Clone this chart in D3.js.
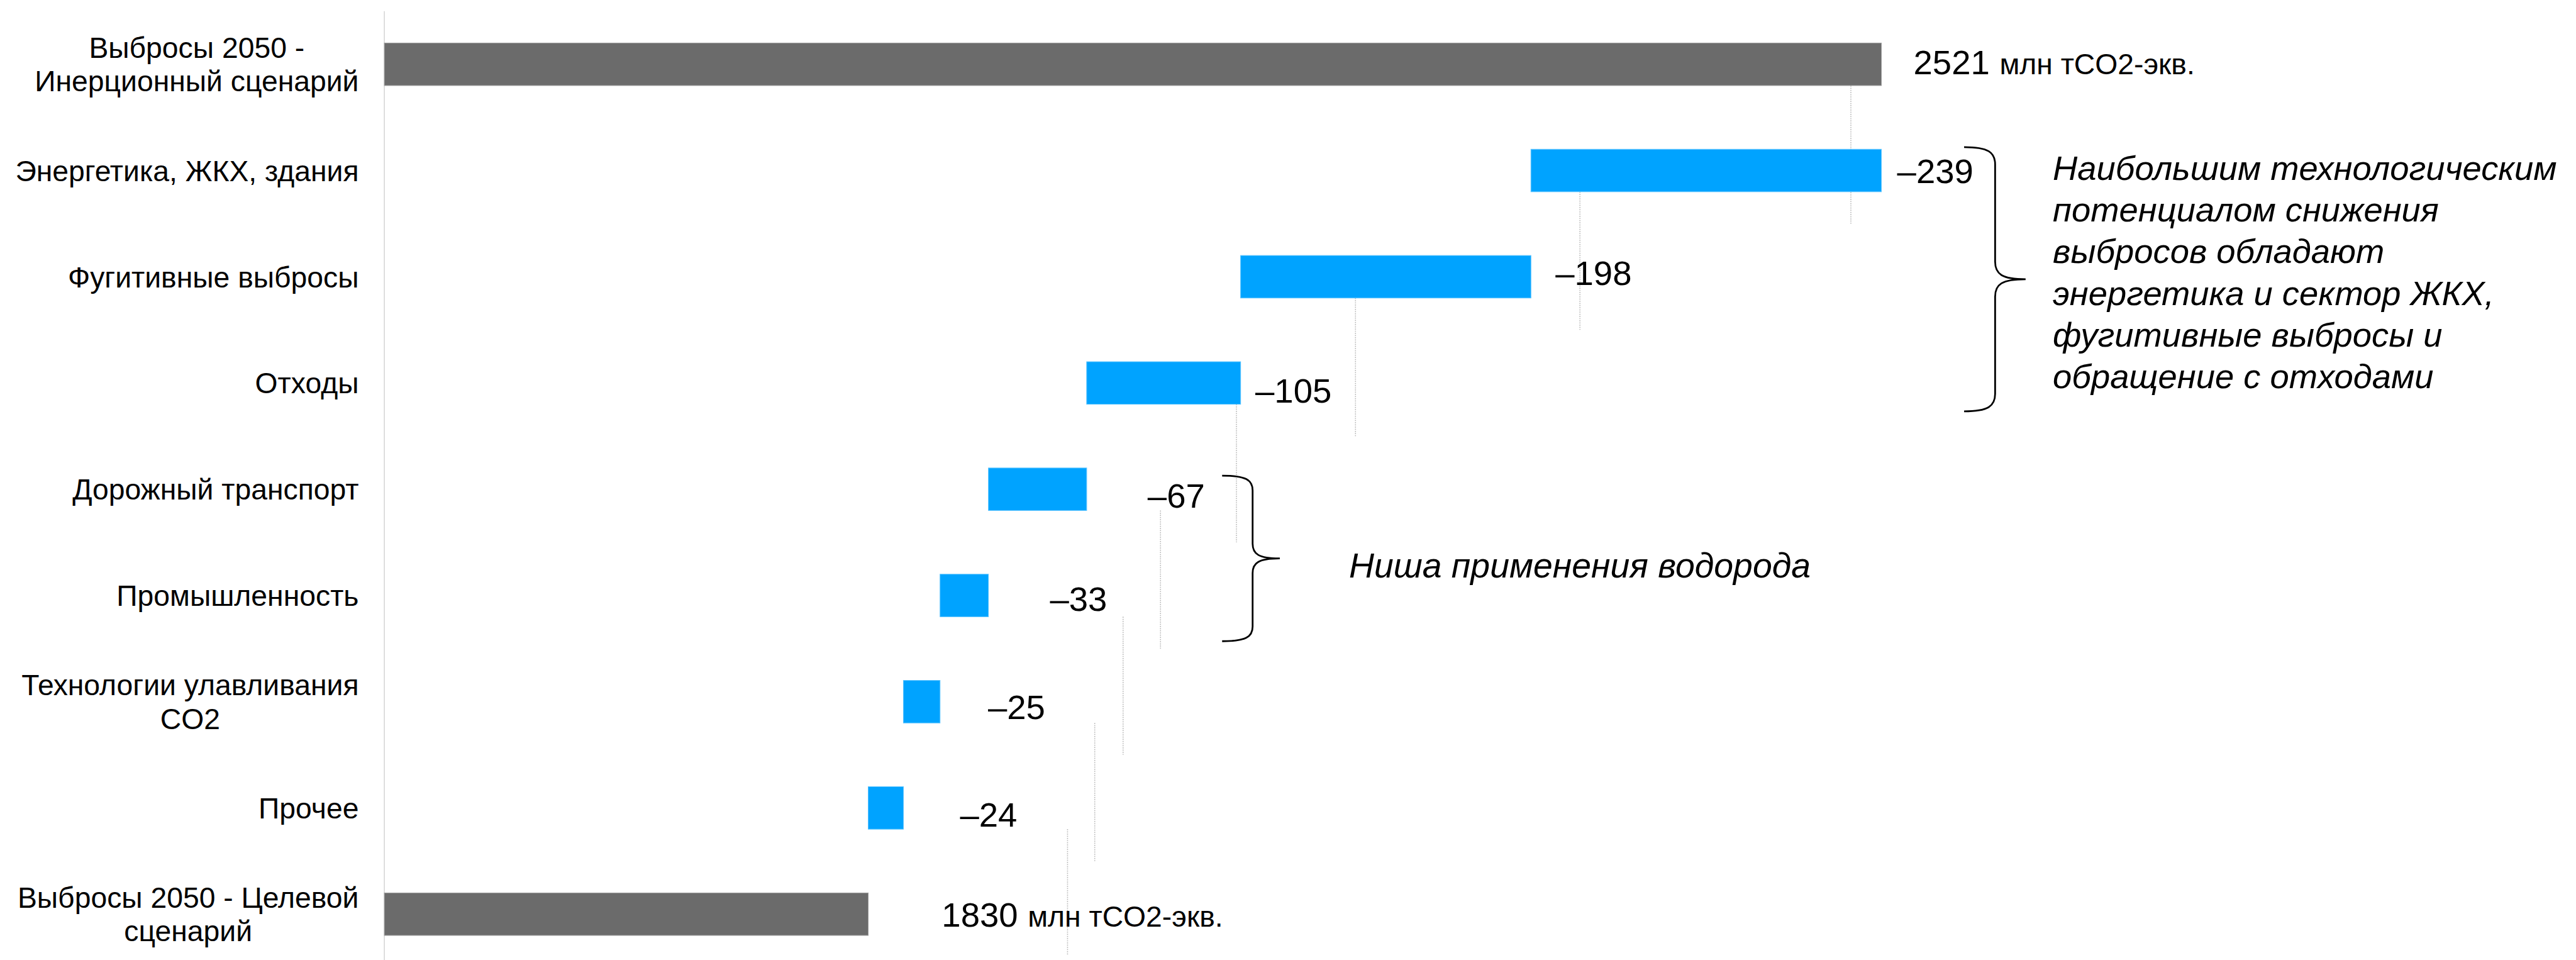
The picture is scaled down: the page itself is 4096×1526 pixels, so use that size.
<!DOCTYPE html>
<html>
<head>
<meta charset="utf-8">
<script src="https://cdn.jsdelivr.net/npm/d3@7"></script>
<style>
  html, body { margin: 0; padding: 0; background: #fff; overflow: hidden; }
  svg { display: block; }
</style>
</head>
<body>
<svg id="chart"></svg>
<script>
// ---- data ----------------------------------------------------------------
const categories = [
  "Выбросы 2050 -\nИнерционный сценарий",
  "Энергетика, ЖКХ, здания",
  "Фугитивные выбросы",
  "Отходы",
  "Дорожный транспорт",
  "Промышленность",
  "Технологии улавливания\nCO2",
  "Прочее",
  "Выбросы 2050 - Целевой\nсценарий"
];
const startTotal = 2521;                          // млн тCO2-экв.
const reductions = [239, 198, 105, 67, 33, 25, 24];
const endTotal = 1830;
const axisMin = 1500;
const unitLabel = "млн тCO2-экв.";
const noteMain = [
  "Наибольшим технологическим",
  "потенциалом снижения",
  "выбросов обладают",
  "энергетика и сектор ЖКХ,",
  "фугитивные выбросы и",
  "обращение с отходами"
];
const noteHydrogen = "Ниша применения водорода";

// ---- layout (drawn in a 4732 x 1763 coordinate space, scaled to the window) ----
const W = 4732, H = 1763;
const font = "'Liberation Sans', Arial, Helvetica, sans-serif";
const colors = { total: "#6b6b6b", totalEdge: "#9a9a9a", step: "#00a3ff", stepEdge: "#59c3ff",
                 axis: "#d9d9d9", connector: "#b8b8b8", text: "#000" };
// horizontal gap between a bar's right end and its value label, and vertical nudge
const stepLabelGap = [29, 45, 27, 112, 113, 88, 104];
const stepLabelDy  = [0, -8, 13, 11, 6, 9, 12];

const svg = d3.select("#chart")
  .attr("width", 4096).attr("height", 1526)
  .attr("viewBox", `0 0 ${W} ${H}`)
  .style("font-family", font);

const x = d3.scaleLinear().domain([axisMin, startTotal]).range([706, 3456]);
const y = d3.scaleBand().domain(categories).range([20.5, 1776.4])
  .paddingInner(0.6).paddingOuter(0.3);
const yc = c => y(c) + y.bandwidth() / 2;

// running totals before each reduction step
const before = [];
reductions.reduce((acc, r) => { before.push(acc); return acc - r; }, startTotal);
const after = before.map((b, i) => b - reductions[i]);

// connector guides sit on their own compressed scale
const connX = d3.scaleLinear().domain([endTotal, startTotal]).range([1961, 3400]);

// ---- category axis line ----
svg.append("line")
  .attr("x1", x(axisMin)).attr("x2", x(axisMin))
  .attr("y1", y.range()[0]).attr("y2", H)
  .attr("stroke", colors.axis).attr("stroke-width", 2);

// ---- connectors ----
const connTotals = [startTotal, ...after];
svg.append("g").selectAll("line")
  .data(connTotals)
  .join("line")
  .attr("x1", d => connX(d)).attr("x2", d => connX(d))
  .attr("y1", (d, i) => yc(categories[i]) + 0.2 * y.step())
  .attr("y2", (d, i) => Math.min(H - 10, yc(categories[i]) + 1.5 * y.step()))
  .attr("stroke", colors.connector).attr("stroke-width", 1.8)
  .attr("stroke-dasharray", "2,2");

// ---- bars ----
const bars = [
  { cat: categories[0], x0: axisMin, x1: startTotal, kind: "total" },
  ...reductions.map((r, i) => ({ cat: categories[i + 1], x0: after[i], x1: before[i], kind: "step" })),
  { cat: categories[8], x0: axisMin, x1: endTotal, kind: "total" }
];
svg.append("g").selectAll("rect")
  .data(bars)
  .join("rect")
  .attr("x", d => x(d.x0))
  .attr("y", d => y(d.cat))
  .attr("width", d => x(d.x1) - x(d.x0))
  .attr("height", y.bandwidth())
  .attr("fill", d => colors[d.kind])
  .attr("stroke", d => d.kind === "total" ? colors.totalEdge : colors.stepEdge)
  .attr("stroke-width", 1.2);

// ---- category labels (multi-line labels centred on their widest line) ----
const labelRight = 659, labelSize = 53.5, labelLine = 61.5;
categories.forEach(c => {
  const lines = c.split("\n");
  const t = svg.append("text")
    .attr("font-size", labelSize).attr("fill", colors.text);
  const first = yc(c) + 0.36 * labelSize - (lines.length - 1) * labelLine / 2;
  lines.forEach((ln, k) => {
    t.append("tspan").attr("y", first + k * labelLine).text(ln);
  });
  const widths = t.selectAll("tspan").nodes().map(n => n.getComputedTextLength());
  const maxW = d3.max(widths);
  if (lines.length === 1) {
    t.attr("text-anchor", "end").selectAll("tspan").attr("x", labelRight);
  } else {
    t.attr("text-anchor", "middle").selectAll("tspan").attr("x", labelRight - maxW / 2);
  }
});

// ---- value labels ----
const valueSize = 63;
const fmtStep = v => "\u2013" + v;
svg.append("g").selectAll("text")
  .data(reductions)
  .join("text")
  .attr("x", (d, i) => x(before[i]) + stepLabelGap[i])
  .attr("y", (d, i) => yc(categories[i + 1]) + 0.358 * valueSize + stepLabelDy[i])
  .attr("font-size", valueSize).attr("fill", colors.text)
  .text(fmtStep);

function totalLabel(value, cat, gap, dy) {
  const t = svg.append("text")
    .attr("x", x(value) + gap)
    .attr("y", yc(cat) + 0.358 * valueSize + dy)
    .attr("fill", colors.text);
  t.append("tspan").attr("font-size", valueSize).text(value);
  t.append("tspan").attr("font-size", labelSize).attr("dx", 18).text(unitLabel);
}
totalLabel(startTotal, categories[0], 59, -4);
totalLabel(endTotal, categories[8], 135, 0);

// ---- curly braces with notes ----
function bracePath(xTip, y0, y1, xStem, xMid, r) {
  const ym = (y0 + y1) / 2;
  const cx = xTip + (xStem - xTip) * 0.78;
  const mx = xStem + (xMid - xStem) * 0.22;
  return `M${xTip},${y0} C${cx},${y0} ${xStem},${y0 + r * 0.3} ${xStem},${y0 + r}` +
         ` L${xStem},${ym - r} C${xStem},${ym - r * 0.3} ${mx},${ym} ${xMid},${ym}` +
         ` C${mx},${ym} ${xStem},${ym + r * 0.3} ${xStem},${ym + r}` +
         ` L${xStem},${y1 - r} C${xStem},${y1 - r * 0.3} ${cx},${y1} ${xTip},${y1}`;
}
const braces = svg.append("g").attr("fill", "none").attr("stroke", "#000").attr("stroke-width", 3.2);
braces.append("path")
  .attr("d", bracePath(3608, yc(categories[1]) - 43, yc(categories[3]) + 52, 3665, 3721, 32));
braces.append("path")
  .attr("d", bracePath(2245, yc(categories[4]) - 25, yc(categories[5]) + 84, 2301, 2351, 27));

const main = svg.append("text")
  .attr("font-size", 62.8).attr("font-style", "italic").attr("fill", colors.text);
noteMain.forEach((ln, k) => {
  main.append("tspan").attr("x", 3771).attr("y", 330 + k * 76.6).text(ln);
});
svg.append("text")
  .attr("x", 2478).attr("y", 1061)
  .attr("font-size", 64).attr("font-style", "italic").attr("fill", colors.text)
  .text(noteHydrogen);
</script>
</body>
</html>
